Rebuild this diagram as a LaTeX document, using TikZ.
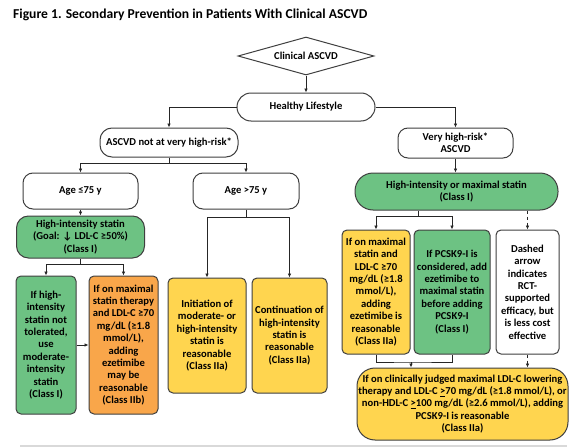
\documentclass[tikz,border=0pt]{standalone}
\usepackage{fontspec}
\setmainfont{Carlito}
\usetikzlibrary{positioning}
\usetikzlibrary{calc}
\usetikzlibrary{arrows.meta}
\usetikzlibrary{shapes.geometric}
\definecolor{stgreen}{HTML}{6DC283}
\definecolor{storange}{HTML}{F9A64A}
\definecolor{styellow}{HTML}{FFD54F}
\definecolor{edge}{HTML}{3F3F3F}
\tikzset{
  box/.style={draw=edge, line width=1pt, rounded corners=5pt, align=center, inner sep=1pt,
    font=\bfseries\fontsize{10.6}{12.4}\selectfont},
  conn/.style={line width=0.9pt, draw=black!85}
}

\begin{document}
\begin{tikzpicture}[x=1pt, y=-1pt, >={Latex[length=4pt,width=3.6pt]}]
    %\draw [help lines] (0, 0) grid (574, 447);
    \useasboundingbox (0, 0) rectangle (574, 447);
    \node [anchor=base west, inner sep=0pt, font=\bfseries\fontsize{13.6}{15}\selectfont] (title) at (13, 18.5) {Figure 1. Secondary Prevention in Patients With Clinical ASCVD};

    \node [box, shape=diamond, shape aspect=3.6, rounded corners=0pt, inner sep=0pt, minimum width=136pt, minimum height=38pt] (clin) at (306, 56) {Clinical ASCVD};
    \node [box, below=17pt of clin, minimum width=138pt, minimum height=28pt, rounded corners=14pt] (life) {Healthy Lifestyle};
    \node [box, minimum width=138pt, minimum height=29pt, rounded corners=12pt] (notvh) at (169, 142.5) {ASCVD not at very high-risk*};
    \node [box, minimum width=115pt, minimum height=30pt, rounded corners=10pt] (veryh) at (455.5, 143) {Very high-risk*\\ASCVD};

    \node [box, minimum width=115pt, minimum height=36pt, rounded corners=10pt] (agelo) at (80.5, 191) {Age ≤75 y};
    \node [box, minimum width=106pt, minimum height=36pt, rounded corners=10pt] (agehi) at (246, 191) {Age >75 y};
    \node [box, fill=stgreen, minimum width=203pt, minimum height=37pt, rounded corners=18pt] (maxst) at (456.5, 191.5) {High-intensity or maximal statin\\(Class I)};
    \node [box, fill=stgreen, below=6pt of agelo, minimum width=128pt, minimum height=42pt, rounded corners=12pt] (hist) {High-intensity statin\\(Goal: ↓ LDL-C ≥50\%)\\(Class I)};

    \node [box, fill=stgreen, minimum width=60pt, minimum height=138pt] (modst) at (46, 345) {If high-\\intensity\\statin not\\tolerated,\\use\\moderate-\\intensity\\statin\\(Class I)};
    \node [box, fill=storange, minimum width=69pt, minimum height=138pt] (eze_b) at (123.5, 345) {If on maximal\\statin therapy\\and LDL-C ≥70\\mg/dL (≥1.8\\mmol/L),\\adding\\ezetimibe\\may be\\reasonable\\(Class IIb)};
    \node [box, fill=styellow, minimum width=78pt, minimum height=115pt] (init) at (207, 335.5) {Initiation of\\moderate- or\\high-intensity\\statin is\\reasonable\\(Class IIa)};
    \node [box, fill=styellow, minimum width=75pt, minimum height=115pt] (cont) at (289.5, 335.5) {Continuation of\\high-intensity\\statin is\\reasonable\\(Class IIa)};

    \node [box, fill=styellow, minimum width=68pt, minimum height=124pt] (eze_a) at (376, 292) {If on maximal\\statin and\\LDL-C ≥70\\mg/dL (≥1.8\\mmol/L),\\adding\\ezetimibe is\\reasonable\\(Class IIa)};
    \node [box, fill=stgreen, minimum width=76pt, minimum height=124pt] (eze_p) at (452, 292) {If PCSK9-I is\\considered, add\\ezetimibe to\\maximal statin\\before adding\\PCSK9-I\\(Class I)};
    \node [box, fill=white, minimum width=63pt, minimum height=124pt] (note) at (527.5, 292) {Dashed\\arrow\\indicates\\RCT-\\supported\\efficacy, but\\is less cost\\effective};
    \node [box, fill=styellow, minimum width=211pt, minimum height=72pt, rounded corners=18pt, inner sep=0pt] (pcsk) at (462.5, 404) {If on clinically judged maximal LDL-C lowering\\therapy and LDL-C \underline{>}70 mg/dL (≥1.8 mmol/L), or\\non-HDL-C \underline{>}100 mg/dL (≥2.6 mmol/L), adding\\PCSK9-I is reasonable\\(Class IIa)};

    \coordinate [below=6pt of notvh.south] (fork_n);
    \coordinate [below=6pt of hist.south] (fork_h);
    \coordinate [below=8pt of agehi.south] (fork_a);
    \coordinate (fork_m) at (418, 216);
    \coordinate (join_p) at (411, 362);

    \draw [conn, ->] (clin) -- (life);
    \draw [conn, ->] (life) -| (notvh);
    \draw [conn, ->] (life) -| (veryh);
    \draw [conn] (notvh) -- (fork_n);
    \draw [conn, ->] (fork_n) -| (agelo);
    \draw [conn, ->] (fork_n) -| (agehi);
    \draw [conn, ->] (agelo.south) -- (agelo.south |- hist.north);
    \draw [conn] (hist.south) -- (fork_h);
    \draw [conn, ->] (fork_h) -| (modst);
    \draw [conn, ->] (fork_h) -| (eze_b);
    \draw [conn, ->] (modst) -- (eze_b);
    \draw [conn] (agehi) -- (fork_a);
    \draw [conn, ->] (fork_a) -| (init);
    \draw [conn, ->] (fork_a) -| (cont);

    \draw [conn, ->] (veryh) -- (veryh |- maxst.north);
    \draw [conn] (fork_m |- maxst.south) -- (fork_m);
    \draw [conn, ->] (fork_m) -| (eze_a);
    \draw [conn, ->] (fork_m) -| (eze_p);
    \draw [conn, ->, dashed] (note.north |- maxst.south) -- (note);
    \draw [conn] (eze_a.south) |- (join_p) -| (eze_p.south);
    \draw [conn, ->] (join_p) -- (join_p |- pcsk.north);
    \draw [conn, ->, dashed] (note) -- (note |- pcsk.north);

    \draw [gray!30, line width=1.2pt] (20, 446) -- (567, 446);
\end{tikzpicture}
\end{document}
